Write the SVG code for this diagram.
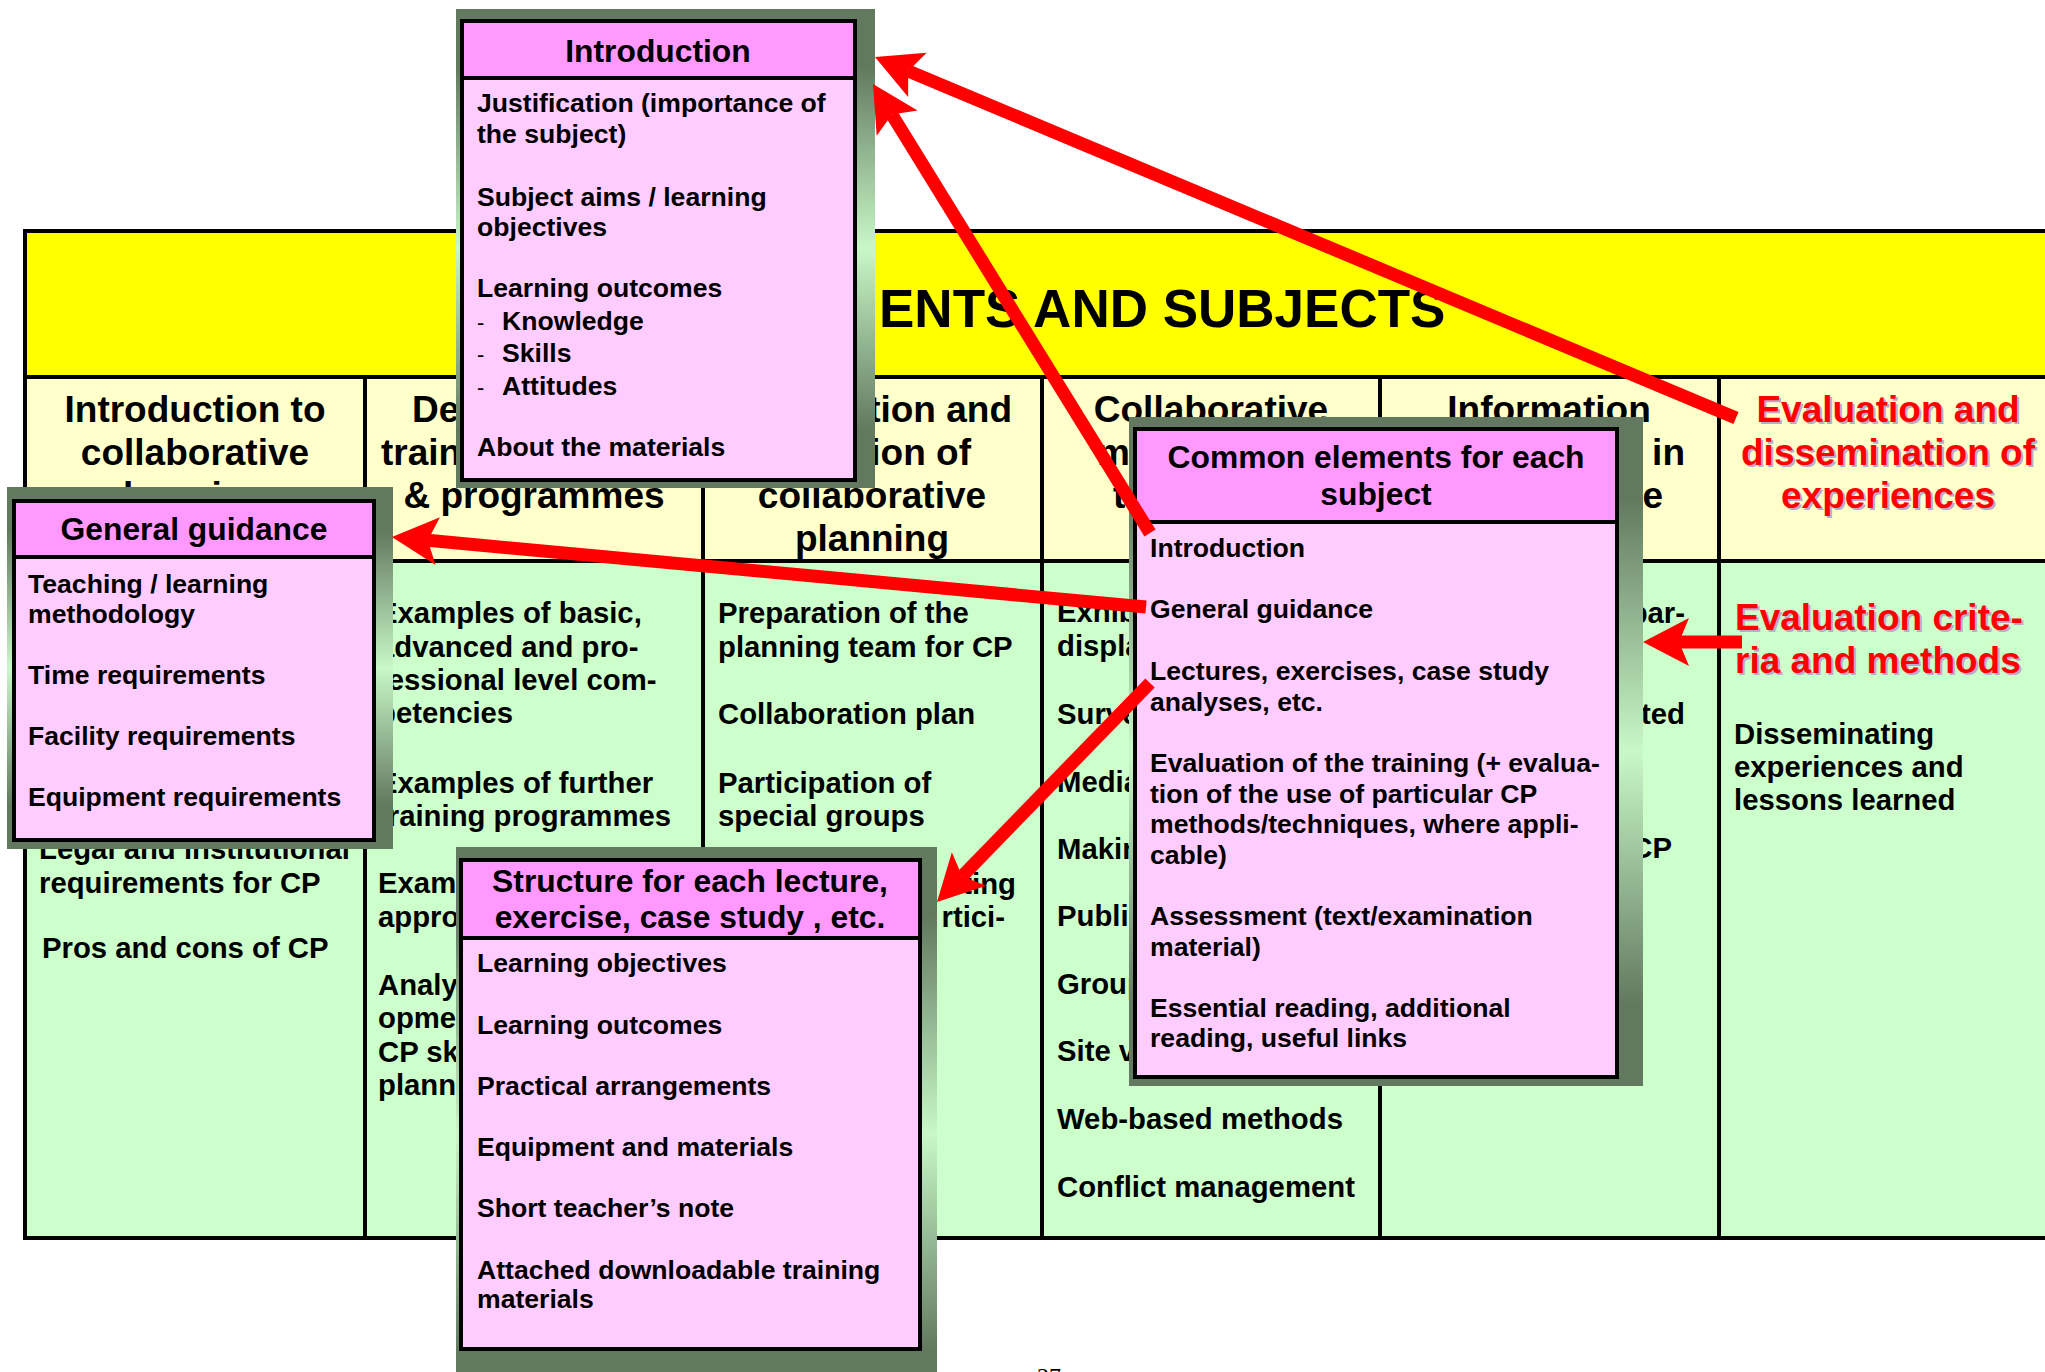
<svg xmlns="http://www.w3.org/2000/svg" width="2045" height="1372" viewBox="0 0 2045 1372">
<style>
.t{font-family:"Liberation Sans",Arial,Helvetica,sans-serif;font-weight:bold;fill:#000}
.title{font-size:53px}
.hdr{font-size:37px;text-anchor:middle}
.cell{font-size:29.3px}
.end{text-anchor:end}
.mid{text-anchor:middle}
.red{fill:#FF0000}
.shd{fill:#BBAACC}
.bt{font-size:31.8px;text-anchor:middle}
.bb{font-size:26.6px}
.dash{font-weight:normal;font-size:22px}
.grid{stroke:#000;stroke-width:4;fill:none}
.frame{fill:url(#frameGrad)}
.boxbody{fill:#FFCCFF;stroke:#000;stroke-width:4}
.boxhead{fill:#FF99FF;stroke:#000;stroke-width:4}
.arrow{stroke:#FF0000;stroke-width:13;fill:none;stroke-linecap:butt;marker-end:url(#ah)}
</style>
<defs>
<linearGradient id="frameGrad" x1="0" y1="0" x2="0" y2="1">
<stop offset="0" stop-color="#62785F"/>
<stop offset="0.12" stop-color="#62785F"/>
<stop offset="0.5" stop-color="#C8F8C8"/>
<stop offset="0.88" stop-color="#62785F"/>
<stop offset="1" stop-color="#62785F"/>
</linearGradient>
<marker id="ah" markerUnits="userSpaceOnUse" markerWidth="48" markerHeight="50" viewBox="0 -25 48 50" refX="10" refY="0" orient="auto" overflow="visible">
<path d="M46,0 L0,-24 L10,0 L0,24 Z" fill="#FF0000"/>
</marker>
</defs>
<rect x="0" y="0" width="2045" height="1372" fill="#FFFFFF"/>

<g id="table">
<rect x="25" y="231" width="2035" height="146" fill="#FFFF00"/>
<rect x="25" y="377" width="2035" height="184" fill="#FFFFCC"/>
<rect x="25" y="561" width="2035" height="677" fill="#CCFFCC"/>
<path class="grid" d="M25,231 H2060 M25,377 H2060 M25,561 H2060 M25,1238 H2060 M25,229 V1240 M365,377 V1238 M703,377 V1238 M1042,377 V1238 M1380,377 V1238 M1719,377 V1238"/>
<text class="t title" x="879" y="327">ENTS AND SUBJECTS</text>

<g class="t hdr">
<text x="195" y="422">Introduction to</text>
<text x="195" y="465">collaborative</text>
<text x="195" y="508">learning</text>
<text x="534" y="508">&amp; programmes</text>
<text x="872" y="508">collaborative</text>
<text x="872" y="551">planning</text>
<text x="1211" y="422">Collaborative</text>
<text x="1549" y="422">Information</text>
</g>
<g class="t" font-size="37px">
<text x="412" y="422">De</text>
<text x="381" y="465">train</text>
<text class="end" x="1012" y="422">tion and</text>
<text class="end" x="971" y="465">ion of</text>
<text x="1097" y="465">m</text>
<text x="1113" y="508">te</text>
<text class="end" x="1685" y="465">in</text>
<text class="end" x="1663" y="508">e</text>
</g>
<g class="t hdr shd">
<text x="1890" y="424">Evaluation and</text>
<text x="1890" y="467">dissemination of</text>
<text x="1890" y="510">experiences</text>
</g>
<g class="t hdr red">
<text x="1888" y="422">Evaluation and</text>
<text x="1888" y="465">dissemination of</text>
<text x="1888" y="508">experiences</text>
</g>

<g class="t cell">
<text x="39" y="859">Legal and institutional</text>
<text x="39" y="893">requirements for CP</text>
<text x="42" y="958">Pros and cons of CP</text>

<text x="378" y="623">Examples of basic,</text>
<text x="378" y="657">advanced and pro-</text>
<text x="378" y="690">fessional level com-</text>
<text x="378" y="723">petencies</text>
<text x="378" y="793">Examples of further</text>
<text x="378" y="826">training programmes</text>
<text x="378" y="893">Exam</text>
<text x="378" y="927">appro</text>
<text x="378" y="995">Analy</text>
<text x="378" y="1028">opme</text>
<text x="378" y="1062">CP sk</text>
<text x="378" y="1095">plann</text>

<text x="718" y="623">Preparation of the</text>
<text x="718" y="657">planning team for CP</text>
<text x="718" y="724">Collaboration plan</text>
<text x="718" y="793">Participation of</text>
<text x="718" y="826">special groups</text>
<text class="end" x="1016" y="894">ting</text>
<text class="end" x="1005" y="927">rtici-</text>

<text x="1057" y="622">Exhib</text>
<text x="1057" y="656">displa</text>
<text x="1057" y="724">Surve</text>
<text x="1057" y="792">Media</text>
<text x="1057" y="859">Makin</text>
<text x="1057" y="926">Public</text>
<text x="1057" y="994">Group</text>
<text x="1057" y="1061">Site vi</text>
<text x="1057" y="1129">Web-based methods</text>
<text x="1057" y="1197">Conflict management</text>

<text class="end" x="1685" y="623">par-</text>
<text class="end" x="1685" y="724">ted</text>
<text class="end" x="1672" y="858">CP</text>

<text x="1734" y="744">Disseminating</text>
<text x="1734" y="777">experiences and</text>
<text x="1734" y="810">lessons learned</text>
</g>
<g class="t shd" font-size="37px">
<text x="1737" y="632">Evaluation crite-</text>
<text x="1737" y="675">ria and methods</text>
</g>
<g class="t red" font-size="37px">
<text x="1735" y="630">Evaluation crite-</text>
<text x="1735" y="673">ria and methods</text>
</g>
</g>

<g id="node-introduction">
<rect class="frame" x="456" y="9" width="419" height="479"/>
<rect class="boxbody" x="462" y="21" width="393" height="459"/>
<rect class="boxhead" x="462" y="21" width="393" height="57"/>
<text class="t bt" x="658" y="62">Introduction</text>
<g class="t bb">
<text x="477" y="112">Justification (importance of</text>
<text x="477" y="143">the subject)</text>
<text x="477" y="206">Subject aims / learning</text>
<text x="477" y="236">objectives</text>
<text x="477" y="297">Learning outcomes</text>
<text class="dash" x="477" y="330">-</text>
<text x="502" y="330">Knowledge</text>
<text class="dash" x="477" y="362">-</text>
<text x="502" y="362">Skills</text>
<text class="dash" x="477" y="395">-</text>
<text x="502" y="395">Attitudes</text>
<text x="477" y="456">About the materials</text>
</g>
</g>

<g id="node-general-guidance">
<rect class="frame" x="7" y="487" width="386" height="362"/>
<rect class="boxbody" x="14" y="501" width="360" height="339"/>
<rect class="boxhead" x="14" y="501" width="360" height="56"/>
<text class="t bt" x="194" y="540">General guidance</text>
<g class="t bb">
<text x="28" y="593">Teaching / learning</text>
<text x="28" y="623">methodology</text>
<text x="28" y="684">Time requirements</text>
<text x="28" y="745">Facility requirements</text>
<text x="28" y="806">Equipment requirements</text>
</g>
</g>

<g id="node-common-elements">
<rect class="frame" x="1129" y="417" width="514" height="669"/>
<rect class="boxbody" x="1135" y="429" width="482" height="648"/>
<rect class="boxhead" x="1135" y="429" width="482" height="93"/>
<text class="t bt" x="1376" y="468">Common elements for each</text>
<text class="t bt" x="1376" y="505">subject</text>
<g class="t bb">
<text x="1150" y="557">Introduction</text>
<text x="1150" y="618">General guidance</text>
<text x="1150" y="680">Lectures, exercises, case study</text>
<text x="1150" y="711">analyses, etc.</text>
<text x="1150" y="772">Evaluation of the training (+ evalua-</text>
<text x="1150" y="803">tion of the use of particular CP</text>
<text x="1150" y="833">methods/techniques, where appli-</text>
<text x="1150" y="864">cable)</text>
<text x="1150" y="925">Assessment (text/examination</text>
<text x="1150" y="956">material)</text>
<text x="1150" y="1017">Essential reading, additional</text>
<text x="1150" y="1047">reading, useful links</text>
</g>
</g>

<g id="node-structure">
<rect class="frame" x="456" y="847" width="481" height="573"/>
<rect class="boxbody" x="461" y="860" width="459" height="489"/>
<rect class="boxhead" x="461" y="860" width="459" height="78"/>
<text class="t bt" x="690" y="892">Structure for each lecture,</text>
<text class="t bt" x="690" y="928">exercise, case study , etc.</text>
<g class="t bb">
<text x="477" y="972">Learning objectives</text>
<text x="477" y="1034">Learning outcomes</text>
<text x="477" y="1095">Practical arrangements</text>
<text x="477" y="1156">Equipment and materials</text>
<text x="477" y="1217">Short teacher’s note</text>
<text x="477" y="1279">Attached downloadable training</text>
<text x="477" y="1308">materials</text>
</g>
</g>

<g id="connectors">
<line class="arrow" x1="1736" y1="418" x2="908.2" y2="70.9"/>
<line class="arrow" x1="1150" y1="533" x2="891.9" y2="114.6"/>
<line class="arrow" x1="1146" y1="607" x2="427.8" y2="540.3"/>
<line class="arrow" x1="1150" y1="683" x2="962.1" y2="876.2"/>
<line class="arrow" x1="1742" y1="642" x2="1679" y2="642"/>
</g>

<text x="1049" y="1384" font-family="Liberation Serif,Times New Roman,serif" font-size="24" text-anchor="middle">27</text>
</svg>
